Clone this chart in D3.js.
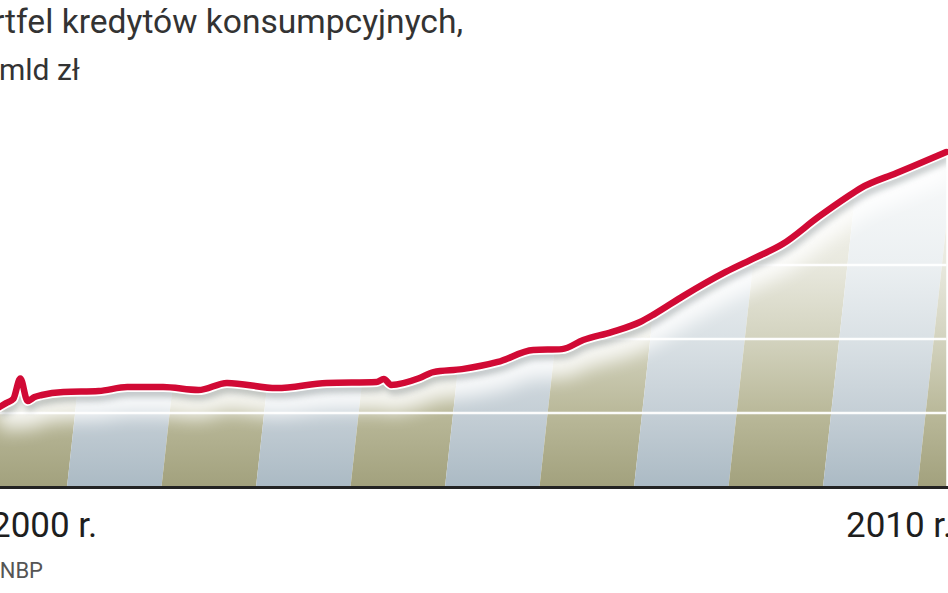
<!DOCTYPE html>
<html>
<head>
<meta charset="utf-8">
<script src="https://cdn.jsdelivr.net/npm/d3@7"></script>
<style>
  html, body { margin: 0; padding: 0; background: #fff; }
  svg { display: block; }
</style>
</head>
<body>
<svg id="chart" width="948" height="593"></svg>
<script>
// ---- data ----
const months = ["2000-02","2000-03","2000-04","2000-05","2000-06","2000-07","2000-08","2000-11",
  "2001-04","2001-08","2002-01","2002-06","2002-10","2003-05","2003-12","2004-07","2004-08","2004-09",
  "2005-01","2005-03","2005-07","2005-12","2006-05","2006-09","2006-12","2007-04","2007-08","2007-10",
  "2008-02","2008-08","2008-12","2009-04","2009-09","2010-01","2010-03","2010-08","2010-12","2011-03"];
const values = [32.4,34.0,35.7,44.0,34.9,36.5,37.3,38.5,
  38.9,40.5,40.5,39.3,42.2,40.1,42.2,42.6,43.8,41.4,
  44.2,46.6,47.8,50.7,55.5,55.9,59.6,62.8,66.9,70.1,
  77.4,87.2,92.8,98.5,109.5,117.6,121.2,127.3,132.2,135.8];
const gridValues = [30, 60, 90];
const tickYears = ["2000", "2010"];
const tickLabels = ["2000 r.", "2010 r."];
const stripeIdx = [0,1,2,3,4,5,6,7,8,9,10];
const titleLines = ["Portfel kredytów konsumpcyjnych,", "mld zł"];
const sourceText = "Źródło: NBP";

// ---- layout ----
const W = 948, H = 593;
const baseY = 487, topY = 141.7;
const parseM = d3.timeParse("%Y-%m");
const parseY = d3.timeParse("%Y");
const data = months.map((m, i) => ({ d: parseM(m), v: values[i] }));

const x = d3.scaleTime().domain([parseY("2000"), parseY("2010")]).range([-8, 847]);
const y = d3.scaleLinear().domain([0, 140]).range([baseY, topY]);
const stripeScale = d3.scaleBand().domain(stripeIdx).range([-27.5, -27.5 + 11 * 94.5]).paddingInner(0);
const skew = 0.11;

const svg = d3.select("#chart");
const defs = svg.append("defs");

function grad(id, stops) {
  const g = defs.append("linearGradient").attr("id", id)
    .attr("gradientUnits", "userSpaceOnUse")
    .attr("x1", 0).attr("x2", 0).attr("y1", baseY).attr("y2", topY);
  stops.forEach(s => g.append("stop").attr("offset", s[0]).attr("stop-color", s[1]));
}
grad("olive", [[0, "#a2a17d"], [0.22, "#bab99a"], [0.43, "#d3d3bf"], [0.65, "#e9e9df"], [1, "#fbfbf8"]]);
grad("blue",  [[0, "#abbac4"], [0.22, "#c5cfd6"], [0.43, "#dae1e5"], [0.65, "#ecf0f2"], [1, "#fbfcfc"]]);

const area = d3.area().curve(d3.curveMonotoneX)
  .x(d => x(d.d)).y0(y(0)).y1(d => y(d.v));
const line = d3.line().curve(d3.curveMonotoneX)
  .x(d => x(d.d)).y(d => y(d.v));

defs.append("clipPath").attr("id", "under").append("path").attr("d", area(data));

const blur8 = defs.append("filter").attr("id", "blur8").attr("x", "-20%").attr("y", "-50%").attr("width", "140%").attr("height", "200%");
blur8.append("feGaussianBlur").attr("stdDeviation", 9);
const blur3 = defs.append("filter").attr("id", "blur3").attr("x", "-20%").attr("y", "-50%").attr("width", "140%").attr("height", "200%");
blur3.append("feGaussianBlur").attr("stdDeviation", 3);

const under = svg.append("g").attr("clip-path", "url(#under)");

// stripes
under.selectAll("path.stripe").data(stripeIdx).join("path")
  .attr("class", "stripe")
  .attr("fill", d => d % 2 === 0 ? "url(#olive)" : "url(#blue)")
  .attr("d", d => {
    const x0 = stripeScale(d), x1 = x0 + stripeScale.bandwidth();
    const dx = skew * (baseY - topY);
    return `M${x0},${baseY}L${x1},${baseY}L${x1 + dx},${topY}L${x0 + dx},${topY}Z`;
  });

// grid lines
under.selectAll("line.grid").data(gridValues).join("line")
  .attr("x1", 0).attr("x2", W)
  .attr("y1", d => y(d)).attr("y2", d => y(d))
  .attr("stroke", "#ffffff").attr("stroke-width", 2.5).attr("opacity", 0.95);

// white fade just below the line
under.append("path").attr("d", line(data))
  .attr("fill", "none").attr("stroke", "#ffffff").attr("stroke-width", 30)
  .attr("transform", "translate(0,13)").attr("filter", "url(#blur8)").attr("opacity", 0.85);

// soft shadow
under.append("path").attr("d", line(data))
  .attr("fill", "none").attr("stroke", "#8c9496").attr("stroke-width", 7)
  .attr("transform", "translate(2,6)").attr("filter", "url(#blur3)").attr("opacity", 0.55);

// baseline
svg.append("line").attr("x1", 0).attr("x2", W).attr("y1", baseY + 0.5).attr("y2", baseY + 0.5)
  .attr("stroke", "#232323").attr("stroke-width", 3);

// main line
svg.append("path").attr("d", line(data))
  .attr("fill", "none").attr("stroke", "#ffffff").attr("stroke-width", 10)
  .attr("stroke-linejoin", "round").attr("stroke-linecap", "round");
svg.append("path").attr("d", line(data))
  .attr("fill", "none").attr("stroke", "#d10a35").attr("stroke-width", 6.5)
  .attr("stroke-linejoin", "round").attr("stroke-linecap", "round");

// x labels
svg.selectAll("text.tick").data(tickYears).join("text")
  .attr("class", "tick")
  .attr("x", (d) => x(parseY(d)) - 1).attr("y", 537)
  .attr("font-family", "Roboto, sans-serif").attr("font-size", 35)
  .attr("fill", "#1e1e1e")
  .text((d, i) => tickLabels[i]);

// title
svg.append("text").attr("x", 463).attr("y", 33).attr("text-anchor", "end")
  .attr("font-family", "Roboto, sans-serif").attr("font-size", 33.6).attr("fill", "#333")
  .text(titleLines[0]);
svg.append("text").attr("x", -1).attr("y", 80)
  .attr("font-family", "Roboto, sans-serif").attr("font-size", 30).attr("fill", "#333")
  .text(titleLines[1]);

// source
svg.append("text").attr("x", 43).attr("y", 578).attr("text-anchor", "end")
  .attr("font-family", "Roboto, sans-serif").attr("font-size", 22).attr("fill", "#555")
  .text(sourceText);
</script>
</body>
</html>
